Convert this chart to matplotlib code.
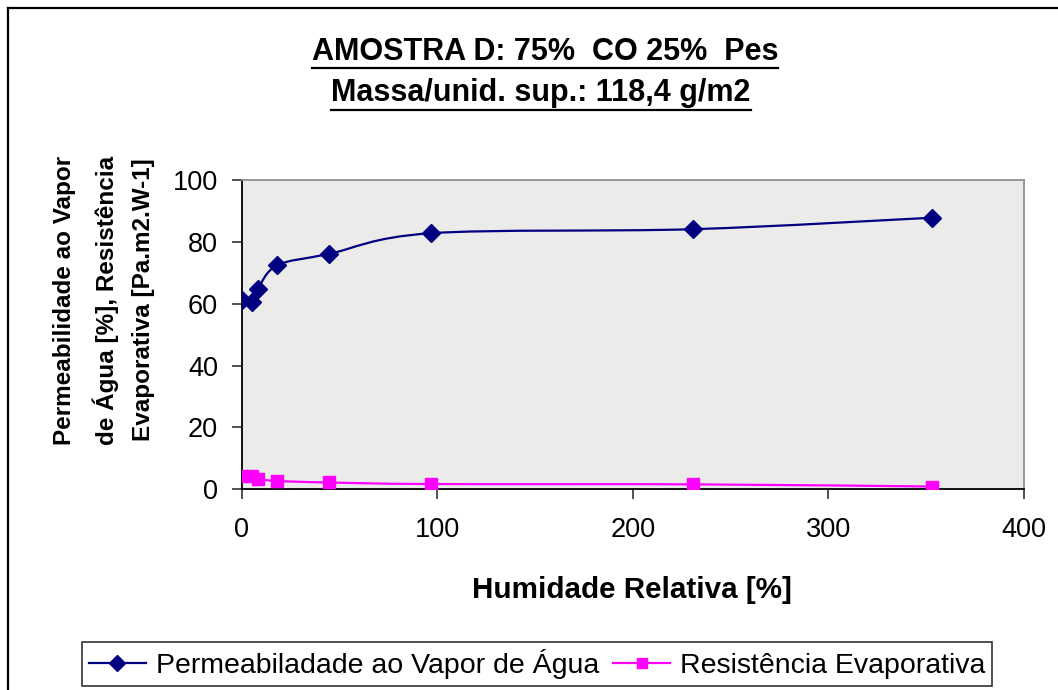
import matplotlib
matplotlib.use('Agg')
import matplotlib.pyplot as plt
import numpy as np
from matplotlib.path import Path
from matplotlib.patches import PathPatch
from matplotlib.lines import Line2D

plt.rcParams['font.family'] = ['Liberation Sans', 'DejaVu Sans']

# dados
humidade = [0.0, 5.1, 8.2, 18.1, 44.7, 97.0, 231.0, 352.9]
permeabilidade = [61.2, 60.7, 64.7, 72.4, 76.1, 82.8, 84.1, 87.8]
resistencia = [4.4, 4.3, 3.4, 2.7, 2.2, 1.7, 1.6, 0.9]

x_ticks = [0, 100, 200, 300, 400]
y_ticks = [0, 20, 40, 60, 80, 100]

titulo = ['AMOSTRA D: 75%  CO 25%  Pes', 'Massa/unid. sup.: 118,4 g/m2']
y_label = 'Permeabilidade ao Vapor\nde Água [%], Resistência\nEvaporativa [Pa.m2.W-1]'
x_label = 'Humidade Relativa [%]'
legendas = ['Permeabiladade ao Vapor de Água', 'Resistência Evaporativa']

AZUL = '#000080'
ROSA = '#FF00FF'


def curva_suave(x, y):
    # linha suavizada tipo Excel (Catmull-Rom -> Bezier)
    pts = np.column_stack([x, y])
    n = len(pts)
    verts = [pts[0]]
    codes = [Path.MOVETO]
    for i in range(n - 1):
        p0 = pts[i - 1] if i > 0 else pts[i]
        p1 = pts[i]
        p2 = pts[i + 1]
        p3 = pts[i + 2] if i + 2 < n else pts[i + 1]
        c1 = p1 + (p2 - p0) / 6.0
        c2 = p2 - (p3 - p1) / 6.0
        verts += [c1, c2, p2]
        codes += [Path.CURVE4] * 3
    return Path(verts, codes)


W, H = 1058, 690
fig = plt.figure(figsize=(W / 100, H / 100), dpi=100)
ax = fig.add_axes([241.7 / W, (H - 489.3) / H, 782 / W, 309.3 / H])
ax.set_facecolor('#ebebe9')

for yv, cor, mk, ms in [(permeabilidade, AZUL, 'D', 9), (resistencia, ROSA, 's', 8)]:
    ax.add_patch(PathPatch(curva_suave(humidade, yv), fill=False, edgecolor=cor,
                           lw=1.6, transform=ax.transData, zorder=3))
    ax.plot(humidade, yv, ls='none', marker=mk, ms=ms, color=cor, zorder=4)

ax.set_xlim(0, 400)
ax.set_ylim(0, 100)
ax.set_xticks(x_ticks)
ax.set_yticks(y_ticks)
ax.tick_params(direction='out', length=7, width=1.2, labelsize=19.5, color='#333333')
ax.tick_params(axis='y', pad=10)
ax.tick_params(axis='x', pad=13)
for s in ['left', 'bottom']:
    ax.spines[s].set_color('black')
    ax.spines[s].set_linewidth(1.3)
for s in ['top', 'right']:
    ax.spines[s].set_color('#909090')
    ax.spines[s].set_linewidth(1.3)

# títulos sublinhados
t1 = fig.text(545 / W, 1 - 52 / H, titulo[0], ha='center', va='center',
              fontsize=22, fontweight='bold')
t2 = fig.text(541 / W, 1 - 93 / H, titulo[1], ha='center', va='center',
              fontsize=22, fontweight='bold')
fig.text(104 / W, 1 - 300 / H, y_label, rotation=90, ha='center', va='center',
         multialignment='center', fontsize=17.5, fontweight='bold', linespacing=1.75)
fig.text(632 / W, 1 - 590 / H, x_label, ha='center', va='center',
         fontsize=21.3, fontweight='bold')

fig.canvas.draw()
r = fig.canvas.get_renderer()
for t, uy in [(t1, 68), (t2, 110)]:
    bb = t.get_window_extent(r)
    fig.add_artist(Line2D([bb.x0 / W, bb.x1 / W], [1 - uy / H, 1 - uy / H],
                          color='black', lw=1.6, transform=fig.transFigure))

# legenda
handles = [Line2D([], [], color=AZUL, lw=1.6, marker='D', ms=8),
           Line2D([], [], color=ROSA, lw=1.6, marker='s', ms=7)]
leg = fig.legend(handles, legendas, ncol=2, loc='center',
                 bbox_to_anchor=(537 / W, 1 - 664 / H), fontsize=20.5,
                 frameon=True, fancybox=False, edgecolor='black',
                 handlelength=2.0, handletextpad=0.35, columnspacing=0.5,
                 borderpad=0.25, borderaxespad=0)
leg.get_frame().set_linewidth(1.2)

# moldura do gráfico
fig.add_artist(Line2D([8 / W, 8 / W], [0, 1 - 8 / H], color='black', lw=1.6,
                      transform=fig.transFigure))
fig.add_artist(Line2D([8 / W, 1], [1 - 8 / H, 1 - 8 / H], color='black', lw=1.6,
                      transform=fig.transFigure))

fig.savefig('out.png', dpi=100)
